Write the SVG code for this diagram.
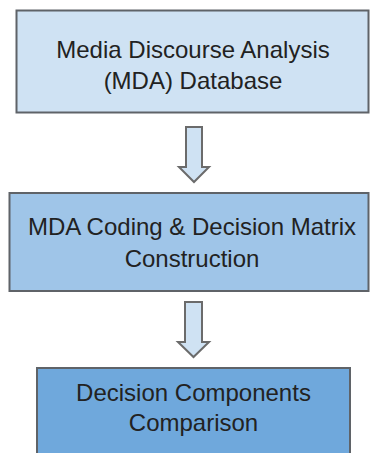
<svg xmlns="http://www.w3.org/2000/svg" width="372" height="453" viewBox="0 0 372 453">
<style>
.box{stroke:#5f6368;stroke-width:2}
.arrow{fill:#cfe2f3;stroke:#6b6b6b;stroke-width:2;stroke-linejoin:miter}
text{font-family:"Liberation Sans",Arial,sans-serif;font-size:24px;fill:#222222;text-anchor:middle}
</style>
<rect width="372" height="453" fill="#ffffff"/>
<g id="connectors">
<path class="arrow" d="M186,127 H202 V167 H209 L194,182 L179,167 H186 Z"/>
<path class="arrow" d="M185,302 H202 V342 H209 L193.5,357 L178,342 H185 Z"/>
</g>
<g id="node-mda-database">
<rect class="box" x="16.5" y="10.5" width="352" height="102" fill="#cfe2f3"/>
<text x="193" y="58">Media Discourse Analysis</text>
<text x="193" y="89">(MDA) Database</text>
</g>
<g id="node-coding-matrix">
<rect class="box" x="9.5" y="193" width="359" height="98" fill="#9fc5e8"/>
<text x="192" y="235">MDA Coding &amp; Decision Matrix</text>
<text x="192" y="267">Construction</text>
</g>
<g id="node-comparison">
<rect class="box" x="37" y="368" width="313" height="100" fill="#6fa8dc"/>
<text x="193.5" y="401">Decision Components</text>
<text x="193.5" y="431">Comparison</text>
</g>
</svg>
